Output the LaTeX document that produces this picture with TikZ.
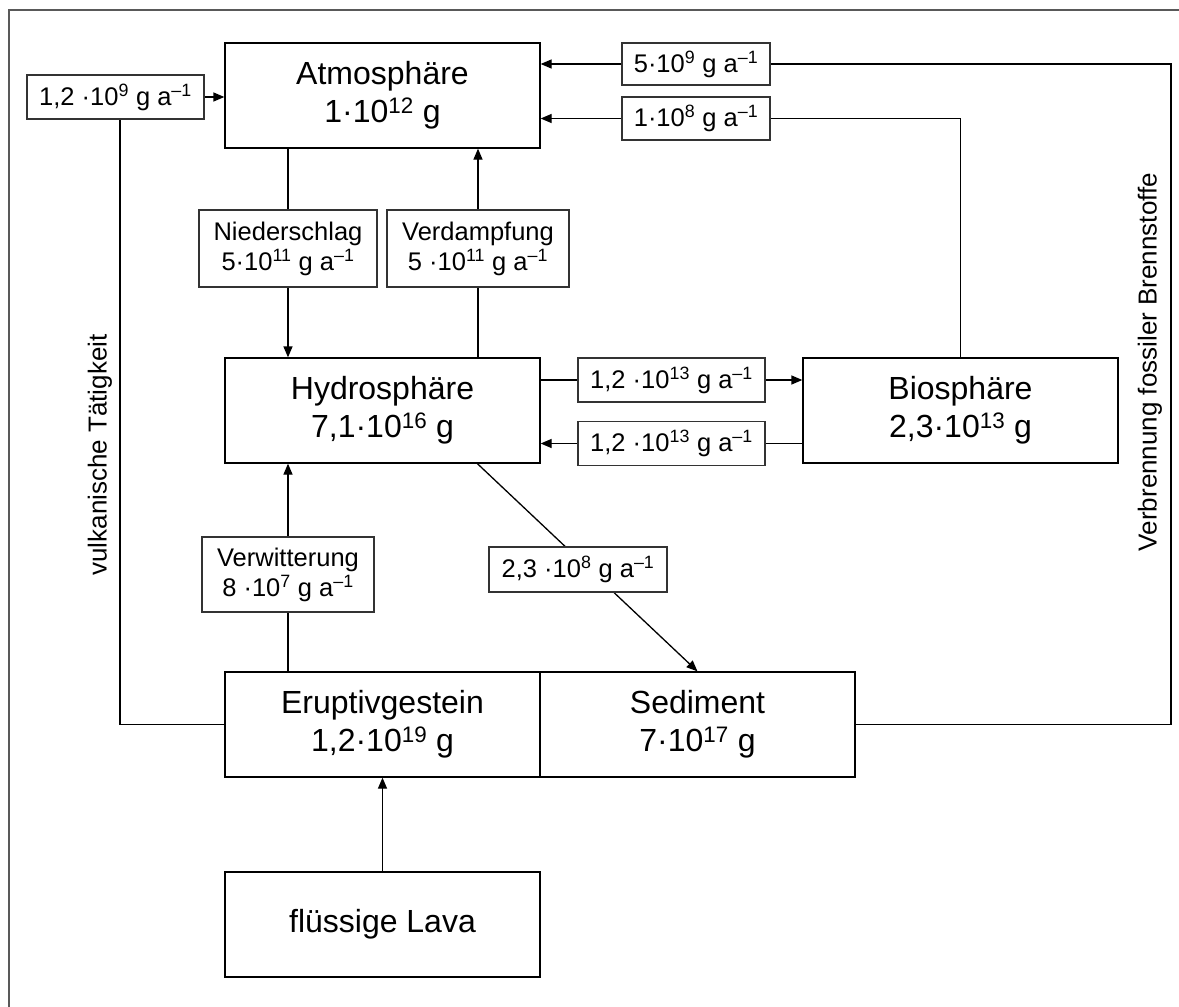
\documentclass[tikz,border=0pt]{standalone}
\usepackage{fontspec}
\setmainfont{Liberation Sans}
\usetikzlibrary{arrows.meta,backgrounds,calc}
\tikzset{
  bigbox/.style={draw, line width=1.3pt, fill=white, minimum width=315pt, minimum height=105pt, inner sep=0pt, align=center, font=\fontsize{32}{38}\selectfont},
  flowlab/.style={draw=black!80, line width=1.1pt, fill=white, inner sep=0pt, align=center, font=\fontsize{25.5}{30}\selectfont},
  conn/.style={line width=1.3pt},
  arr/.style={conn, -{Triangle[length=11pt,width=9pt]}},
  sidetext/.style={rotate=90, font=\fontsize{26}{30}\selectfont}
}
\newcommand{\eh}[1]{\textsuperscript{#1}}
\begin{document}
\begin{tikzpicture}[x=1pt,y=-1pt]
\useasboundingbox (0,0) rectangle (1179,1007);
\draw[black!65, line width=1.2pt] (9,1007) -- (9,10) -- (1179,10);
% main boxes
\node[bigbox] (atm) at (382.5,95.5) {Atmosphäre\\1·10\eh{12} g};
\node[bigbox] (hyd) at (382.5,410.5) {Hydrosphäre\\7,1·10\eh{16} g};
\node[bigbox] (bio) at (960.5,410.5) {Biosphäre\\2,3·10\eh{13} g};
\node[bigbox] (eru) at (382.5,724.5) {Eruptivgestein\\1,2·10\eh{19} g};
\node[bigbox] (sed) at (697.5,724.5) {Sediment\\7·10\eh{17} g};
\node[bigbox] (lava) at (382.5,924.5) {flüssige Lava};
% flow labels
\node[flowlab, minimum width=177pt, minimum height=44pt] (l9) at (115.5,97) {1,2 ·10\eh{9} g a\eh{–1}};
\node[flowlab, minimum width=148pt, minimum height=42pt] (l5e9) at (696,64) {5·10\eh{9} g a\eh{–1}};
\node[flowlab, minimum width=148pt, minimum height=43pt] (l1e8) at (696,118.5) {1·10\eh{8} g a\eh{–1}};
\node[flowlab, minimum width=178pt, minimum height=77pt] (nied) at (288,248.5) {Niederschlag\\5·10\eh{11} g a\eh{–1}};
\node[flowlab, minimum width=182pt, minimum height=77pt] (verd) at (478,248.5) {Verdampfung\\5 ·10\eh{11} g a\eh{–1}};
\node[flowlab, minimum width=187pt, minimum height=44pt] (l13a) at (671.5,380) {1,2 ·10\eh{13} g a\eh{–1}};
\node[flowlab, minimum width=187pt, minimum height=44pt] (l13b) at (671.5,443.5) {1,2 ·10\eh{13} g a\eh{–1}};
\node[flowlab, minimum width=172pt, minimum height=75pt] (verw) at (288,574.5) {Verwitterung\\8 ·10\eh{7} g a\eh{–1}};
\node[flowlab, minimum width=178pt, minimum height=45pt] (l23) at (578,569.5) {2,3 ·10\eh{8} g a\eh{–1}};
% side texts
\node[sidetext] (vulk) at (100,455) {vulkanische Tätigkeit};
\node[sidetext] (verb) at (1150,362) {Verbrennung fossiler Brennstoffe};
\coordinate (vr) at (1171,0);
\begin{pgfonlayer}{background}
\draw[arr] (nied.center |- atm.south) -- (nied.center |- hyd.north);
\draw[arr] (verd.center |- hyd.north) -- (verd.center |- atm.south);
\draw[arr] (hyd.east |- l13a.center) -- (bio.west |- l13a.center);
\draw[arr] (bio.west |- l13b.center) -- (hyd.east |- l13b.center);
\draw[arr] (verw.center |- eru.north) -- (verw.center |- hyd.south);
\draw[arr] ($(hyd.south west)!0.8!(hyd.south east)$) -- (sed.north);
\draw[arr] (lava.north) -- (eru.south);
\draw[conn] (eru.west) -| ([xshift=4.5pt]l9.south);
\draw[arr] (l9.east) -- (atm.west |- l9.east);
\draw[arr] (sed.east) -| (vr |- l5e9.center) -- (atm.east |- l5e9.center);
\draw[arr] (bio.north) |- (atm.east |- l1e8.center);
\end{pgfonlayer}
\end{tikzpicture}
\end{document}
